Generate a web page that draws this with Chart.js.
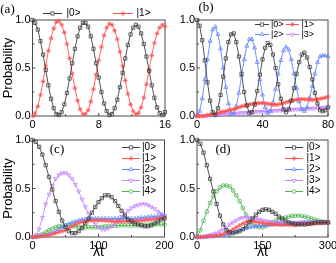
<!DOCTYPE html>
<html>
<head>
<meta charset="utf-8">
<script src="https://cdn.jsdelivr.net/npm/chart.js@4.4.0/dist/chart.umd.min.js"></script>
<style>
  html, body { margin: 0; padding: 0; background: #fff; overflow: hidden; width: 336px; height: 263px; }
  canvas { position: absolute; left: 0; top: 0; }
</style>
</head>
<body>
<canvas id="pa"></canvas>
<canvas id="pb"></canvas>
<canvas id="pc"></canvas>
<canvas id="pd"></canvas>
<script>
// ---- data ----
const labels = ['|0>', '|1>', '|2>', '|3>', '|4>'];

// (a)  lambda t from 0 to 16
const tA = [0, 0.32, 0.64, 0.96, 1.28, 1.6, 1.92, 2.24, 2.56, 2.88, 3.2, 3.52, 3.84, 4.16, 4.48, 4.8, 5.12, 5.44, 5.76, 6.08,
  6.4, 6.72, 7.04, 7.36, 7.68, 8, 8.32, 8.64, 8.96, 9.28, 9.6, 9.92, 10.24, 10.56, 10.88, 11.2, 11.52, 11.84, 12.16, 12.48,
  12.8, 13.12, 13.44, 13.76, 14.08, 14.4, 14.72, 15.04, 15.36, 15.68, 16];
const a0 = [1.00, .97, .90, .78, .64, .48, .32, .18, .08, .02, .01, .04, .12, .24, .39, .55, .70, .83, .92, .97,
  .97, .93, .83, .70, .55, .40, .25, .13, .05, .01, .02, .08, .17, .30, .45, .60, .74, .85, .92, .95,
  .93, .86, .75, .62, .47, .32, .19, .09, .03, .01, .04];
const a1 = [0, .03, .10, .22, .36, .52, .68, .81, .91, .98, .99, .95, .87, .75, .60, .44, .29, .16, .07, .02,
  .02, .06, .15, .28, .43, .58, .72, .84, .92, .96, .95, .89, .80, .67, .52, .37, .23, .12, .05, .02,
  .03, .09, .19, .33, .48, .63, .76, .86, .92, .95, .93];

// (b)  lambda t from 0 to 80
const tB = [0, 1.6, 3.2, 4.8, 6.4, 8, 9.6, 11.2, 12.8, 14.4, 16, 17.6, 19.2, 20.8, 22.4, 24, 25.6, 27.2, 28.8, 30.4,
  32, 33.6, 35.2, 36.8, 38.4, 40, 41.6, 43.2, 44.8, 46.4, 48, 49.6, 51.2, 52.8, 54.4, 56, 57.6, 59.2, 60.8, 62.4,
  64, 65.6, 67.2, 68.8, 70.4, 72, 73.6, 75.2, 76.8, 78.4, 80];
const b0 = [1.00, .94, .79, .58, .35, .16, .04, .01, .08, .22, .41, .60, .77, .85, .86, .77, .62, .44, .25, .11,
  .03, .04, .12, .26, .43, .59, .71, .76, .74, .64, .50, .33, .18, .07, .04, .07, .16, .29, .44, .56,
  .64, .66, .61, .51, .38, .24, .13, .06, .05, .06, .09];
const b1 = [0, 0, 0, 0, .01, .01, .02, .02, .03, .04, .045, .05, .06, .065, .07, .08, .09, .10, .105, .11,
  .12, .125, .13, .133, .135, .135, .132, .127, .122, .118, .117, .12, .127, .135, .143, .15, .158, .165, .17, .174,
  .175, .174, .172, .17, .169, .17, .174, .18, .186, .192, .198];
const b2 = [0, .05, .18, .38, .59, .78, .90, .93, .85, .70, .50, .30, .13, .03, .02, .10, .24, .42, .59, .73,
  .80, .80, .71, .56, .38, .22, .09, .03, .05, .14, .28, .44, .58, .68, .72, .69, .59, .44, .29, .15,
  .07, .05, .09, .19, .31, .44, .56, .62, .63, .63, .62];
const b3 = [0, 0, 0, .003, .005, .007, .01, .012, .014, .016, .018, .02, .022, .024, .026, .028, .03, .032, .034, .036,
  .038, .04, .042, .044, .045, .046, .048, .05, .052, .054, .056, .058, .06, .062, .064, .066, .067, .068, .07, .071,
  .072, .074, .076, .078, .08, .081, .083, .085, .087, .089, .09];

// (c)  lambda t from 0 to 200
const tC = [0, 5, 10, 15, 20, 25, 30, 35, 40, 45, 50, 55, 60, 65, 70, 75, 80, 85, 90, 95, 100,
  105, 110, 115, 120, 125, 130, 135, 140, 145, 150, 155, 160, 165, 170, 175, 180, 185, 190, 195, 200];
const c0 = [1.0, .98, .93, .85, .74, .62, .49, .37, .26, .17, .10, .06, .04, .04, .06, .09, .14, .19, .25, .31, .36,
  .40, .43, .43, .41, .37, .32, .27, .22, .18, .16, .14, .13, .12, .11, .11, .12, .14, .16, .18, .19];
const c1 = [0, 0, .005, .01, .015, .02, .03, .04, .05, .06, .07, .09, .11, .13, .145, .155, .16, .165, .17, .17, .17,
  .17, .168, .165, .163, .16, .16, .16, .16, .16, .162, .165, .168, .17, .173, .177, .18, .185, .19, .195, .2];
const c2 = [0, 0, .005, .01, .02, .03, .04, .06, .08, .10, .12, .135, .15, .16, .17, .18, .185, .19, .19, .19, .19,
  .19, .19, .19, .19, .19, .19, .19, .19, .19, .19, .19, .195, .2, .2, .205, .21, .21, .215, .22, .22];
const c3 = [0, .02, .08, .20, .34, .44, .53, .60, .64, .66, .66, .64, .60, .54, .47, .39, .31, .24, .18, .13, .10,
  .08, .08, .09, .11, .14, .17, .21, .24, .27, .30, .32, .33, .34, .34, .33, .31, .29, .26, .24, .22];
const c4 = [0, .005, .015, .03, .05, .07, .085, .10, .11, .115, .12, .12, .115, .11, .105, .10, .10, .10, .10, .10, .10,
  .105, .11, .11, .115, .115, .12, .12, .12, .12, .12, .12, .12, .12, .125, .125, .13, .13, .13, .13, .13];

// (d)  lambda t from 0 to 300
const tD = [0, 7.5, 15, 22.5, 30, 37.5, 45, 52.5, 60, 67.5, 75, 82.5, 90, 97.5, 105, 112.5, 120, 127.5, 135, 142.5, 150,
  157.5, 165, 172.5, 180, 187.5, 195, 202.5, 210, 217.5, 225, 232.5, 240, 247.5, 255, 262.5, 270, 277.5, 285, 292.5, 300];
const d0 = [1.0, .96, .87, .74, .60, .47, .34, .22, .13, .07, .05, .04, .05, .06, .08, .11, .15, .19, .23, .26, .28,
  .285, .28, .26, .24, .21, .19, .17, .15, .14, .13, .13, .13, .13, .135, .14, .145, .15, .15, .15, .15];
const d1 = [0, 0, 0, .005, .01, .01, .015, .02, .03, .045, .06, .08, .10, .12, .14, .155, .16, .16, .155, .15, .145,
  .14, .135, .13, .13, .125, .125, .125, .125, .125, .125, .13, .13, .13, .135, .135, .14, .14, .14, .145, .145];
const d2 = [0, 0, 0, 0, .005, .005, .01, .015, .02, .025, .035, .045, .055, .07, .08, .09, .10, .105, .11, .115, .12,
  .12, .125, .125, .13, .13, .13, .13, .135, .135, .14, .14, .14, .145, .145, .145, .15, .15, .15, .15, .15];
const d3 = [0, 0, .005, .01, .02, .03, .04, .06, .08, .10, .13, .15, .17, .19, .20, .205, .20, .195, .19, .18, .17,
  .165, .16, .155, .15, .15, .15, .15, .15, .15, .15, .15, .155, .155, .155, .155, .155, .155, .155, .155, .155];
const d4 = [0, .07, .17, .26, .35, .42, .47, .51, .53, .53, .52, .48, .43, .37, .30, .23, .17, .13, .11, .10, .10,
  .11, .13, .15, .17, .18, .19, .20, .21, .215, .22, .22, .215, .21, .20, .19, .18, .17, .16, .155, .15];

// ---- look ----
Chart.defaults.font.family = 'Arial, "Liberation Sans", sans-serif';

const STYLES = [
  { color: '#404040', pointStyle: 'rect', radius: 2.3, rot: 0 },
  { color: '#ff5252', pointStyle: 'star', radius: 2.3, rot: 0 },
  { color: '#6286ff', pointStyle: 'triangle', radius: 2.3, rot: 0 },
  { color: '#c484ff', pointStyle: 'triangle', radius: 2.3, rot: 180 },
  { color: '#4fb44f', pointStyle: 'circle', radius: 1.9, rot: 0 }
];

const CW = 380, CH = 300;   // each canvas is oversized and overlaid
const YW = 32.5, XH = 26;   // fixed axis boxes

function pts(xs, ys) {
  return xs.map((x, i) => ({ x: x, y: ys[i] }));
}

function line(ctx, x1, y1, x2, y2) {
  ctx.beginPath(); ctx.moveTo(x1, y1); ctx.lineTo(x2, y2); ctx.stroke();
}

function panelPlugin(p) {
  return {
    id: 'panel',
    beforeDatasetsDraw(chart) {
      const { ctx, chartArea: a, scales: { x, y } } = chart;
      ctx.save();
      ctx.strokeStyle = '#4a4a4a';
      ctx.lineWidth = 1;
      ctx.strokeRect(a.left, a.top, a.right - a.left, a.bottom - a.top);
      // inward ticks, left and bottom
      for (let v = 0; v <= p.xMax + 1e-9; v += p.xMinor) {
        const px = x.getPixelForValue(v);
        const major = Math.abs(v / p.xStep - Math.round(v / p.xStep)) < 1e-6;
        line(ctx, px, a.bottom, px, a.bottom - (major ? 3 : 2));
      }
      for (let v = 0; v <= 1 + 1e-9; v += 0.25) {
        const py = y.getPixelForValue(v);
        const major = Math.abs(v * 2 - Math.round(v * 2)) < 1e-6;
        line(ctx, a.left, py, a.left + (major ? 3 : 2), py);
      }
      ctx.restore();
    },
    afterDraw(chart) {
      const ctx = chart.ctx;
      ctx.save();
      // panel tag
      ctx.fillStyle = '#000';
      ctx.font = '13px "Liberation Serif", "Times New Roman", serif';
      ctx.textAlign = 'center';
      ctx.textBaseline = 'middle';
      ctx.fillText(p.tag, p.tagPos[0], p.tagPos[1]);
      // legend
      ctx.font = p.legendFont + 'px Arial, "Liberation Sans", sans-serif';
      ctx.textAlign = 'left';
      p.legend.forEach(it => {
        const ds = chart.data.datasets[it.i];
        const st = STYLES[ds.styleIndex];
        ctx.strokeStyle = st.color;
        ctx.lineWidth = 1;
        line(ctx, it.x1, it.y, it.x2, it.y);
        ctx.fillStyle = '#fff';
        ctx.lineWidth = 0.8;
        Chart.helpers.drawPoint(ctx, { pointStyle: st.pointStyle, radius: st.radius, rotation: st.rot, borderWidth: 0.8 }, it.xm, it.y);
        ctx.fillStyle = '#000';
        ctx.fillText(ds.label, it.xt, it.y);
      });
      ctx.restore();
    }
  };
}

function makePanel(id, p) {
  const cv = document.getElementById(id);
  cv.width = CW; cv.height = CH;
  cv.style.width = CW + 'px'; cv.style.height = CH + 'px';
  const datasets = p.series.map(([xs, ys, s]) => {
    const st = STYLES[s];
    return {
      label: labels[s], styleIndex: s, data: pts(xs, ys),
      borderColor: st.color, borderWidth: 0.9, tension: 0, fill: false, clip: false,
      pointStyle: st.pointStyle, pointRadius: st.radius, pointHoverRadius: st.radius, pointRotation: st.rot,
      pointBorderColor: st.color, pointBackgroundColor: 'rgba(255,255,255,0)', pointBorderWidth: 0.8
    };
  });
  const xtLine = 16.8;
  new Chart(cv, {
    type: 'line',
    data: { datasets },
    options: {
      responsive: false, animation: false, events: [],
      layout: { padding: { left: p.area.left - YW, right: CW - p.area.right, top: p.area.top, bottom: CH - p.area.bottom - XH } },
      plugins: { legend: { display: false }, tooltip: { enabled: false } },
      scales: {
        x: {
          type: 'linear', min: 0, max: p.xMax,
          afterFit: s => { s.height = XH; },
          ticks: { stepSize: p.xStep, color: '#000', font: { size: 11 }, padding: 2.5, maxRotation: 0, autoSkip: false },
          grid: { display: false, drawTicks: false }, border: { display: false },
          title: { display: p.xTitle, text: 'λt', color: '#000', font: { size: 14 },
            padding: { top: 0, bottom: XH - 15 - xtLine / 2 } }
        },
        y: {
          min: 0, max: 1,
          afterFit: s => { s.width = YW; },
          ticks: { stepSize: 0.5, color: '#000', font: { size: 11 }, padding: 2, callback: v => Number(v).toFixed(1) },
          grid: { display: false, drawTicks: false }, border: { display: false },
          title: { display: p.yTitle, text: 'Probability', color: '#000', font: { size: 13 }, padding: { top: 0.2, bottom: 0 } }
        }
      }
    },
    plugins: [panelPlugin(p)]
  });
}

makePanel('pa', {
  area: { left: 32.5, right: 165, top: 20, bottom: 116 }, xMax: 16, xStep: 8, xMinor: 4,
  series: [[tA, a0, 0], [tA, a1, 1]],
  yTitle: true, xTitle: false, tag: '(a)', tagPos: [7.5, 10], legendFont: 10,
  legend: [
    { i: 0, x1: 43, x2: 62, xm: 52.5, xt: 66.5, y: 13.5 },
    { i: 1, x1: 113, x2: 133, xm: 123, xt: 136.5, y: 13.5 }
  ]
});

makePanel('pb', {
  area: { left: 197, right: 328, top: 20, bottom: 116 }, xMax: 80, xStep: 40, xMinor: 20,
  series: [[tB, b0, 0], [tB, b1, 1], [tB, b2, 2], [tB, b3, 3]],
  yTitle: false, xTitle: false, tag: '(b)', tagPos: [206, 8], legendFont: 9,
  legend: [
    { i: 0, x1: 255, x2: 269, xm: 262, xt: 271, y: 24.5 },
    { i: 1, x1: 286, x2: 299, xm: 292.5, xt: 301.5, y: 24.5 },
    { i: 2, x1: 255, x2: 269, xm: 262, xt: 271, y: 34.5 },
    { i: 3, x1: 286, x2: 299, xm: 292.5, xt: 301.5, y: 34.5 }
  ]
});

makePanel('pc', {
  area: { left: 32.5, right: 164.5, top: 140, bottom: 237 }, xMax: 200, xStep: 100, xMinor: 50,
  series: [[tC, c0, 0], [tC, c1, 1], [tC, c2, 2], [tC, c3, 3], [tC, c4, 4]],
  yTitle: true, xTitle: true, tag: '(c)', tagPos: [57, 150], legendFont: 10,
  legend: [0, 1, 2, 3, 4].map(i => ({ i: i, x1: 122, x2: 140, xm: 131, xt: 142, y: 147.5 + 11 * i }))
});

makePanel('pd', {
  area: { left: 197, right: 328, top: 140, bottom: 237 }, xMax: 300, xStep: 150, xMinor: 75,
  series: [[tD, d0, 0], [tD, d1, 1], [tD, d2, 2], [tD, d3, 3], [tD, d4, 4]],
  yTitle: false, xTitle: true, tag: '(d)', tagPos: [223, 150], legendFont: 10,
  legend: [0, 1, 2, 3, 4].map(i => ({ i: i, x1: 285, x2: 303, xm: 294, xt: 306.5, y: 147.5 + 11 * i }))
});
</script>
</body>
</html>
